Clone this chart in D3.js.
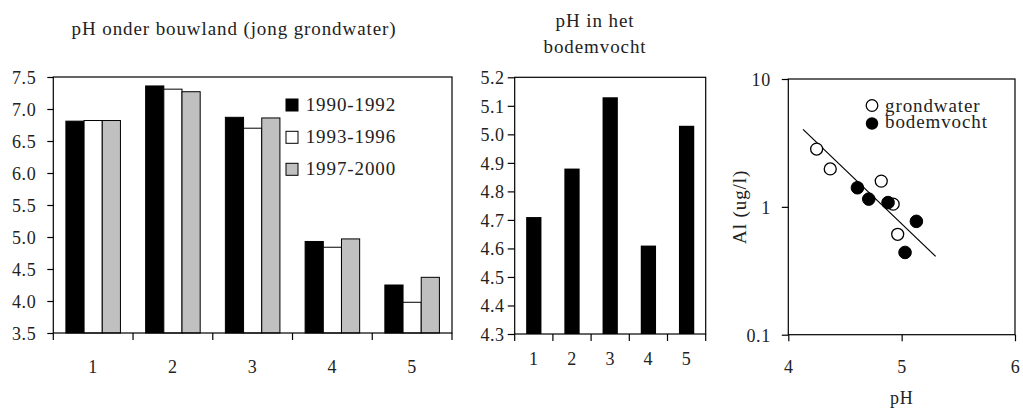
<!DOCTYPE html>
<html>
<head>
<meta charset="utf-8">
<script src="https://cdn.jsdelivr.net/npm/d3@7"></script>
<style>
  html, body { margin: 0; padding: 0; background: #fff; }
  svg text { font-family: "Liberation Serif", "Times New Roman", serif; fill: #222; }
  .tickfont { font-size: 18px; letter-spacing: 0.6px; }
  .bigfont { font-size: 19px; letter-spacing: 0.9px; }
</style>
</head>
<body>
<svg id="chart" width="1023" height="412"></svg>
<script>
// ---- data ----
const categories = ["1", "2", "3", "4", "5"];
const seriesNames = ["1990-1992", "1993-1996", "1997-2000"];
const ph1990 = [6.81, 7.36, 6.87, 4.93, 4.25];
const ph1993 = [6.82, 7.31, 6.70, 4.84, 3.98];
const ph1997 = [6.82, 7.27, 6.86, 4.97, 4.37];
const groundTicks = [3.5, 4.0, 4.5, 5.0, 5.5, 6.0, 6.5, 7.0, 7.5];

const soilPh = [4.71, 4.88, 5.13, 4.61, 5.03];
const soilTicks = [4.3, 4.4, 4.5, 4.6, 4.7, 4.8, 4.9, 5.0, 5.1, 5.2];

const groundwaterPh = [4.25, 4.37, 4.82, 4.925, 4.965];
const groundwaterAl = [2.83, 1.98, 1.59, 1.05, 0.61];
const soilAl = [1.15, 1.08, 0.77, 1.41, 0.44];
const trendPh = [4.13, 5.30];
const trendAl = [4.04, 0.41];
const phTicks = [4, 5, 6];
const alTicks = [0.1, 1, 10];

const fills = ["#000000", "#ffffff", "#c0c0c0"];
const svg = d3.select("#chart");

function frame(g, x0, y0, x1, y1) {
  g.append("rect").attr("x", x0).attr("y", y0)
    .attr("width", x1 - x0).attr("height", y1 - y0)
    .attr("fill", "none").attr("stroke", "#000").attr("stroke-width", 1.2);
}
function styleAxis(sel) {
  sel.select(".domain").remove();
  sel.attr("font-size", null).attr("font-family", null);
  sel.selectAll(".tick line").attr("stroke", "#000").attr("stroke-width", 1.2);
  sel.selectAll(".tick text").attr("class", "tickfont").attr("fill", "#222");
}

// ---- panel 1: grouped bars ----
{
  const L = 53.3, R = 452, T = 77, B = 333;
  const g = svg.append("g");
  const x0 = d3.scaleBand().domain(categories).range([L, R]).padding(0);
  const x1 = d3.scaleBand().domain(seriesNames).range([12.6, x0.bandwidth() - 12.6]).padding(0);
  const y = d3.scaleLinear().domain([3.5, 7.5]).range([B, T]);
  const all = [ph1990, ph1993, ph1997];

  categories.forEach((c, i) => {
    seriesNames.forEach((s, j) => {
      g.append("rect")
        .attr("x", x0(c) + x1(s))
        .attr("y", y(all[j][i]))
        .attr("width", x1.bandwidth())
        .attr("height", y(3.5) - y(all[j][i]))
        .attr("fill", fills[j]).attr("stroke", "#000").attr("stroke-width", 1);
    });
  });
  frame(g, L, T, R, B);

  const ya = g.append("g").attr("transform", `translate(${L},0)`)
    .call(d3.axisLeft(y).tickValues(groundTicks).tickFormat(d3.format(".1f")).tickSize(6).tickPadding(11).tickSizeOuter(0));
  styleAxis(ya);
  ya.selectAll(".tick text").attr("dy", "0.35em");

  // boundary ticks between categories
  const bounds = categories.map(c => x0(c)).concat([R]);
  g.selectAll(".xb").data(bounds).join("line")
    .attr("x1", d => d).attr("x2", d => d).attr("y1", B).attr("y2", B + 7)
    .attr("stroke", "#000").attr("stroke-width", 1.2);
  g.selectAll(".xl").data(categories).join("text")
    .attr("class", "tickfont")
    .attr("x", d => x0(d) + x0.bandwidth() / 2).attr("y", 372.7)
    .attr("text-anchor", "middle").text(d => d);

  g.append("text").attr("class", "bigfont").attr("x", 234).attr("y", 35).attr("text-anchor", "middle")
    .text("pH onder bouwland (jong grondwater)");

  // legend
  const ly = [105, 137.3, 169.3];
  seriesNames.forEach((s, j) => {
    g.append("rect").attr("x", 286).attr("y", ly[j] - 6).attr("width", 12).attr("height", 12)
      .attr("fill", fills[j]).attr("stroke", "#000").attr("stroke-width", 1);
    g.append("text").attr("class", "bigfont").attr("x", 305.7).attr("y", ly[j] + 6).text(s);
  });
}

// ---- panel 2: soil moisture bars ----
{
  const L = 514.7, R = 705.7, T = 77.3, B = 334;
  const g = svg.append("g");
  const x = d3.scaleBand().domain(categories).range([L, R]).paddingInner(0.6).paddingOuter(0.3);
  const y = d3.scaleLinear().domain([4.3, 5.2]).range([B, T]);

  g.selectAll(".bar").data(soilPh).join("rect")
    .attr("x", (d, i) => x(categories[i]))
    .attr("y", d => y(d))
    .attr("width", x.bandwidth())
    .attr("height", d => y(4.3) - y(d))
    .attr("fill", "#000");
  frame(g, L, T, R, B);

  const ya = g.append("g").attr("transform", `translate(${L},0)`)
    .call(d3.axisLeft(y).tickValues(soilTicks).tickFormat(d3.format(".1f")).tickSize(7).tickPadding(3).tickSizeOuter(0));
  styleAxis(ya);
  ya.selectAll(".tick text").attr("dy", "0.35em");

  const bounds = d3.range(6).map(i => L + i * (R - L) / 5);
  g.selectAll(".xb").data(bounds).join("line")
    .attr("x1", d => d).attr("x2", d => d).attr("y1", B).attr("y2", B + 7)
    .attr("stroke", "#000").attr("stroke-width", 1.2);
  g.selectAll(".xl").data(categories).join("text")
    .attr("class", "tickfont")
    .attr("x", d => x(d) + x.bandwidth() / 2).attr("y", 365)
    .attr("text-anchor", "middle").text(d => d);

  g.append("text").attr("class", "bigfont").attr("x", 595).attr("y", 26.7).attr("text-anchor", "middle")
    .text("pH in het");
  g.append("text").attr("class", "bigfont").attr("x", 595).attr("y", 53.3).attr("text-anchor", "middle")
    .text("bodemvocht");
}

// ---- panel 3: Al vs pH scatter (log scale) ----
{
  const L = 788.3, R = 1015, T = 79, B = 334.7;
  const g = svg.append("g");
  const x = d3.scaleLinear().domain([4, 6]).range([L, R]);
  const y = d3.scaleLog().domain([0.1, 10]).range([B, T]);

  frame(g, L, T, R, B);

  const line = d3.line().x(d => x(d[0])).y(d => y(d[1]));
  g.append("path").datum(trendPh.map((p, i) => [p, trendAl[i]]))
    .attr("d", line).attr("fill", "none").attr("stroke", "#000").attr("stroke-width", 1.2);

  g.selectAll(".gw").data(groundwaterPh).join("circle")
    .attr("cx", d => x(d)).attr("cy", (d, i) => y(groundwaterAl[i])).attr("r", 6)
    .attr("fill", "#fff").attr("stroke", "#000").attr("stroke-width", 1.3);
  g.selectAll(".sm").data(soilPh).join("circle")
    .attr("cx", d => x(d)).attr("cy", (d, i) => y(soilAl[i])).attr("r", 6.3)
    .attr("fill", "#000").attr("stroke", "#000").attr("stroke-width", 1);

  const ya = g.append("g").attr("transform", `translate(${L},0)`)
    .call(d3.axisLeft(y).tickValues(alTicks).tickFormat(d3.format("~g")).tickSize(6.5).tickPadding(11).tickSizeOuter(0));
  styleAxis(ya);
  ya.selectAll(".tick text").attr("dy", "0.35em");

  const xa = g.append("g").attr("transform", `translate(0,${B})`)
    .call(d3.axisBottom(x).tickValues(phTicks).tickFormat(d3.format("d")).tickSize(6.5).tickSizeOuter(0));
  styleAxis(xa);
  xa.selectAll(".tick text").attr("y", 373.3 - B).attr("dy", 0);

  g.append("text").attr("class", "tickfont").attr("x", x(5)).attr("y", 404).attr("text-anchor", "middle")
    .text("pH");
  g.append("text").attr("class", "bigfont").attr("transform", `translate(746,${y(1)}) rotate(-90)`)
    .attr("text-anchor", "middle").text("Al (ug/l)");

  // legend
  g.append("circle").attr("cx", 872).attr("cy", 105.5).attr("r", 5.8)
    .attr("fill", "#fff").attr("stroke", "#000").attr("stroke-width", 1.3);
  g.append("text").attr("class", "bigfont").attr("x", 885).attr("y", 111.5).text("grondwater");
  g.append("circle").attr("cx", 872).attr("cy", 123.5).attr("r", 6.2).attr("fill", "#000");
  g.append("text").attr("class", "bigfont").attr("x", 885).attr("y", 128.3).text("bodemvocht");
}
</script>
</body>
</html>
